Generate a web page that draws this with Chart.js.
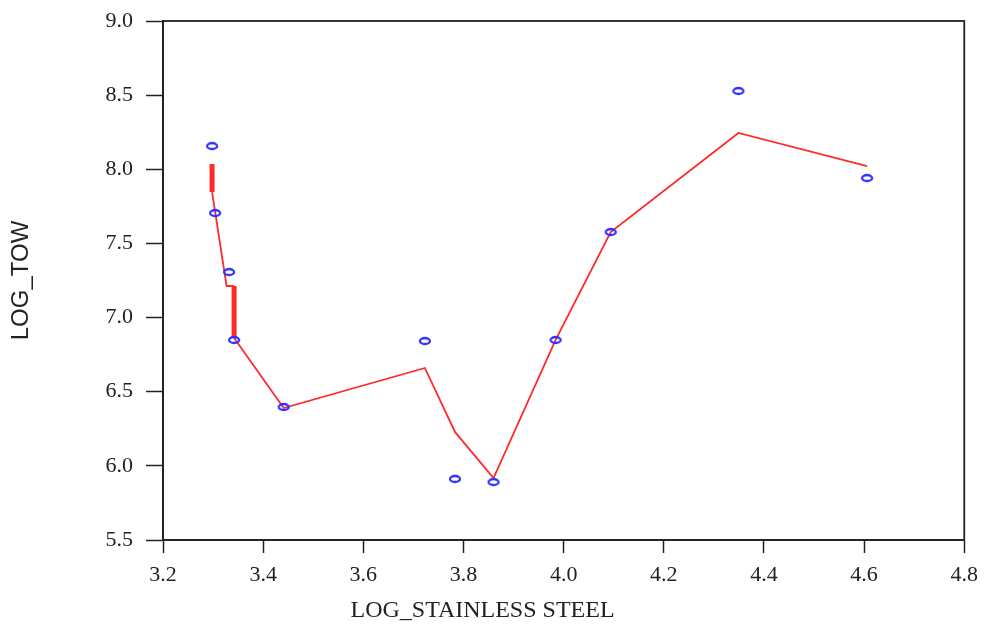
<!DOCTYPE html>
<html>
<head>
<meta charset="utf-8">
<script src="https://cdn.jsdelivr.net/npm/chart.js@4"></script>
<style>
  body { margin: 0; background: #fff; }
</style>
</head>
<body>
<canvas id="chart" width="987" height="628"></canvas>
<script>
// observed points
var logSteel = [3.298, 3.304, 3.332, 3.342, 3.441, 3.723, 3.783, 3.860, 3.984, 4.094, 4.349, 4.606];
var logTow = [8.157, 7.705, 7.307, 6.849, 6.397, 6.842, 5.912, 5.891, 6.849, 7.577, 8.528, 7.941];

// fitted line (vertical steps where x repeats)
var fitX = [3.298, 3.298, 3.327, 3.342, 3.342, 3.441, 3.723, 3.783, 3.860, 3.984, 4.094, 4.349, 4.606];
var fitY = [8.036, 7.846, 7.213, 7.213, 6.862, 6.390, 6.660, 6.229, 5.918, 6.849, 7.577, 8.245, 8.022];

var xTicks = [3.2, 3.4, 3.6, 3.8, 4.0, 4.2, 4.4, 4.6, 4.8];
var yTicks = [5.5, 6.0, 6.5, 7.0, 7.5, 8.0, 8.5, 9.0];

function toXY(xs, ys) {
    return xs.map(function (x, i) { return { x: x, y: ys[i] }; });
}

// small hollow ellipse marker
var marker = document.createElement('canvas');
marker.width = 14;
marker.height = 10;
var mctx = marker.getContext('2d');
mctx.strokeStyle = '#2f2fff';
mctx.lineWidth = 2.3;
mctx.beginPath();
mctx.ellipse(7, 5, 5, 3, 0, 0, Math.PI * 2);
mctx.stroke();

// frame round the plot area
var frame = {
    id: 'frame',
    afterDraw: function (chart) {
        var a = chart.chartArea, ctx = chart.ctx;
        ctx.save();
        ctx.strokeStyle = '#222';
        ctx.lineWidth = 1.8;
        ctx.strokeRect(a.left, a.top, a.right - a.left, a.bottom - a.top);
        ctx.restore();
    }
};

var serif = "'Liberation Serif', 'Times New Roman', serif";
var sans = "'Liberation Sans', Arial, sans-serif";

var ctx = document.getElementById('chart').getContext('2d');
var chart = new Chart(ctx, {
    type: 'scatter',
    data: {
        datasets: [{
            label: 'fit',
            data: toXY(fitX, fitY),
            showLine: true,
            borderColor: '#ff2a2a',
            borderWidth: 1.8,
            pointRadius: 0,
            tension: 0,
            segment: {
                borderWidth: function (c) {
                    return c.p0.parsed.x === c.p1.parsed.x ? 5 : 1.8;
                }
            },
            order: 2
        }, {
            label: 'LOG_TOW',
            data: toXY(logSteel, logTow),
            pointStyle: marker,
            pointRadius: 5,
            order: 1
        }]
    },
    options: {
        responsive: false,
        animation: false,
        layout: { padding: { left: 0, top: 21, right: 22, bottom: 0 } },
        plugins: {
            legend: { display: false },
            tooltip: { enabled: false },
            title: {
                display: true,
                position: 'bottom',
                text: 'LOG_STAINLESS STEEL',
                color: '#222',
                font: { family: serif, size: 24, weight: 'normal' },
                padding: { top: 0, bottom: 3 }
            }
        },
        scales: {
            x: {
                type: 'linear',
                min: 3.2,
                max: 4.8,
                afterBuildTicks: function (s) { s.ticks = xTicks.map(function (v) { return { value: v }; }); },
                afterFit: function (s) { s.height = 56.2; },
                ticks: {
                    color: '#222',
                    padding: 9,
                    maxRotation: 0,
                    font: { family: serif, size: 22 },
                    callback: function (v) { return v.toFixed(1); }
                },
                grid: { drawOnChartArea: false, drawTicks: true, tickLength: 13, tickColor: '#222', tickWidth: 1.5 },
                border: { display: true, color: '#222', width: 1.8 }
            },
            y: {
                type: 'linear',
                min: 5.5,
                max: 9.0,
                afterBuildTicks: function (s) { s.ticks = yTicks.map(function (v) { return { value: v }; }); },
                afterFit: function (s) { s.width = 163; s.paddingTop = 0; s.paddingBottom = 0; },
                title: {
                    display: true,
                    text: 'LOG_TOW',
                    color: '#222',
                    font: { family: sans, size: 24 },
                    padding: { top: 7 }
                },
                ticks: {
                    color: '#222',
                    padding: 13,
                    font: { family: serif, size: 22 },
                    callback: function (v) { return v.toFixed(1); }
                },
                grid: { drawOnChartArea: false, drawTicks: true, tickLength: 17, tickColor: '#222', tickWidth: 1.5 },
                border: { display: true, color: '#222', width: 1.8 }
            }
        }
    },
    plugins: [frame]
});
</script>
</body>
</html>
